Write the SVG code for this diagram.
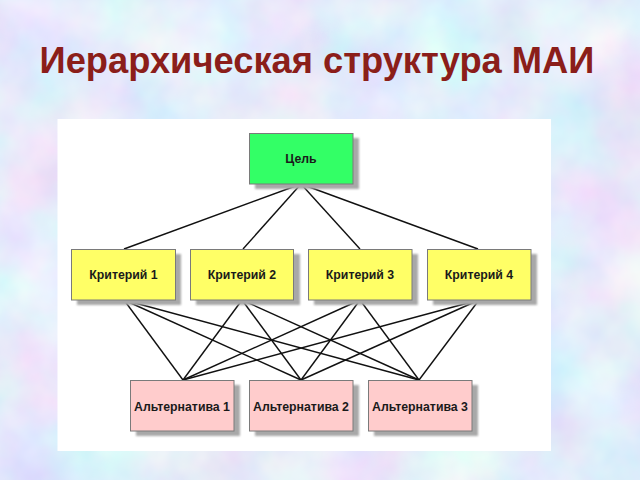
<svg xmlns="http://www.w3.org/2000/svg" width="640" height="480" viewBox="0 0 640 480">
  <defs>
    <filter id="tex" x="0" y="0" width="100%" height="100%">
      <feTurbulence type="fractalNoise" baseFrequency="0.012" numOctaves="4" seed="7"/>
      <feColorMatrix type="matrix" values="0.5 0 0 0 0.52  0 0.42 0 0 0.63  0 0 0.12 0 0.9  0 0 0 0 1"/>
    </filter>
    <filter id="shadow" x="-10%" y="-10%" width="130%" height="140%">
      <feGaussianBlur stdDeviation="1"/>
    </filter>
    <style>
      .box { stroke: #7a7a7a; stroke-width: 1; }
      .sh { fill: #a8a8a8; filter: url(#shadow); }
      .goal { fill: #33ff66; }
      .crit { fill: #ffff66; }
      .alt { fill: #ffcccc; }
      .lbl { font-family: "Liberation Sans", Arial, sans-serif; font-weight: bold; font-size: 12.3px; fill: #1a1a1a; text-anchor: middle; }
      .conn line { stroke: #111111; stroke-width: 1.4; }
    </style>
  </defs>

  <rect x="0" y="0" width="640" height="480" fill="#ccdaf2"/>
  <rect x="0" y="0" width="640" height="480" filter="url(#tex)"/>

  <text x="317" y="73" font-family="Liberation Sans, Arial, sans-serif" font-weight="bold" font-size="36.3" fill="#8b1e1a" text-anchor="middle">Иерархическая структура МАИ</text>

  <rect x="57.5" y="119" width="493.5" height="332" fill="#ffffff"/>

  <g id="connectors" class="conn">
    <line x1="301" y1="184" x2="124" y2="249"/>
    <line x1="301" y1="184" x2="243" y2="249"/>
    <line x1="301" y1="184" x2="360" y2="249"/>
    <line x1="301" y1="184" x2="478" y2="249"/>

    <line x1="124" y1="300" x2="183" y2="380"/>
    <line x1="124" y1="300" x2="301" y2="380"/>
    <line x1="124" y1="300" x2="419" y2="380"/>
    <line x1="242" y1="300" x2="183" y2="380"/>
    <line x1="242" y1="300" x2="301" y2="380"/>
    <line x1="242" y1="300" x2="419" y2="380"/>
    <line x1="360" y1="300" x2="183" y2="380"/>
    <line x1="360" y1="300" x2="301" y2="380"/>
    <line x1="360" y1="300" x2="419" y2="380"/>
    <line x1="479" y1="300" x2="183" y2="380"/>
    <line x1="479" y1="300" x2="301" y2="380"/>
    <line x1="479" y1="300" x2="419" y2="380"/>
  </g>

  <g id="goal">
    <rect class="sh" x="255" y="138" width="104" height="51"/>
    <rect class="box goal" x="249.5" y="133.5" width="103.5" height="50.5"/>
    <text class="lbl" x="301" y="163">Цель</text>
  </g>

  <g id="crit1">
    <rect class="sh" x="77" y="254" width="104" height="51"/>
    <rect class="box crit" x="71.5" y="249.5" width="104" height="50.5"/>
    <text class="lbl" x="123.5" y="279">Критерий 1</text>
  </g>
  <g id="crit2">
    <rect class="sh" x="196" y="254" width="104" height="51"/>
    <rect class="box crit" x="190.5" y="249.5" width="103" height="50.5"/>
    <text class="lbl" x="242" y="279">Критерий 2</text>
  </g>
  <g id="crit3">
    <rect class="sh" x="314" y="254" width="104" height="51"/>
    <rect class="box crit" x="308.5" y="249.5" width="103.5" height="50.5"/>
    <text class="lbl" x="360" y="279">Критерий 3</text>
  </g>
  <g id="crit4">
    <rect class="sh" x="433" y="254" width="104" height="51"/>
    <rect class="box crit" x="427.5" y="249.5" width="103.5" height="50.5"/>
    <text class="lbl" x="479" y="279">Критерий 4</text>
  </g>

  <g id="alt1">
    <rect class="sh" x="136" y="385" width="104" height="51"/>
    <rect class="box alt" x="130.5" y="380.5" width="103.5" height="50.5"/>
    <text class="lbl" x="182" y="411">Альтернатива 1</text>
  </g>
  <g id="alt2">
    <rect class="sh" x="255" y="385" width="104" height="51"/>
    <rect class="box alt" x="249.5" y="380.5" width="103.5" height="50.5"/>
    <text class="lbl" x="301" y="411">Альтернатива 2</text>
  </g>
  <g id="alt3">
    <rect class="sh" x="374" y="385" width="104" height="51"/>
    <rect class="box alt" x="368.5" y="380.5" width="103.5" height="50.5"/>
    <text class="lbl" x="420" y="411">Альтернатива 3</text>
  </g>
</svg>
